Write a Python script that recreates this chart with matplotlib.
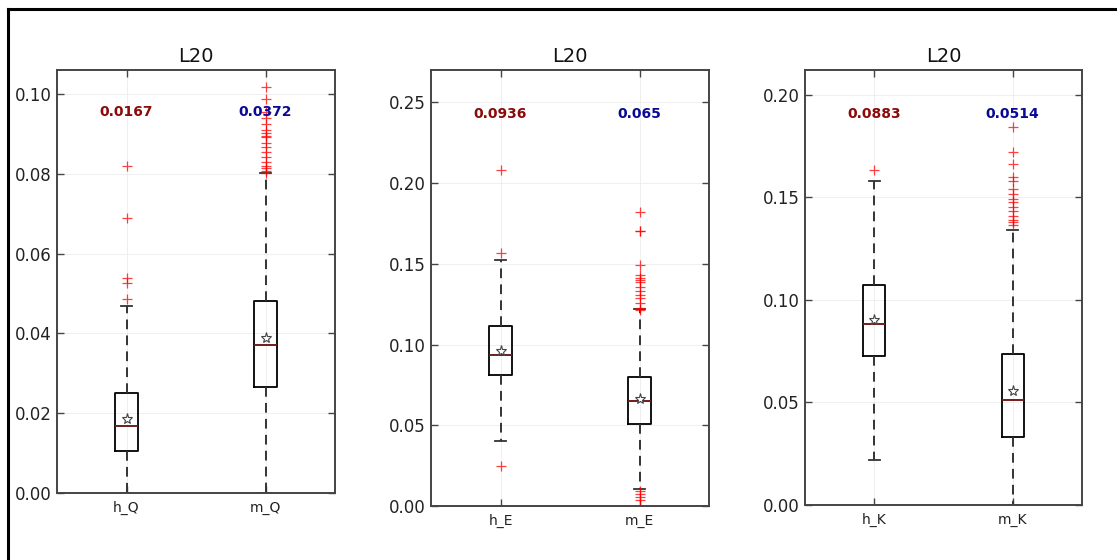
import matplotlib
matplotlib.use("Agg")
import matplotlib.pyplot as plt
from matplotlib.lines import Line2D
from matplotlib.ticker import MultipleLocator, FormatStrFormatter

# ---------------- data ----------------
titles = ["L20", "L20", "L20"]
group_labels = [["h_Q", "m_Q"], ["h_E", "m_E"], ["h_K", "m_K"]]
medians = [[0.0167, 0.0372], [0.0936, 0.065], [0.0883, 0.0514]]
median_text = [["0.0167", "0.0372"], ["0.0936", "0.065"], ["0.0883", "0.0514"]]
q1 = [[0.0105, 0.0265], [0.0814, 0.0510], [0.0726, 0.0330]]
q3 = [[0.0251, 0.0481], [0.1112, 0.0796], [0.1070, 0.0738]]
means = [[0.0186, 0.0388], [0.0959, 0.0663], [0.0902, 0.0557]]
whisker_low = [[0.0, 0.0], [0.0403, 0.0103], [0.0217, 0.0]]
whisker_high = [[0.0469, 0.0801], [0.1521, 0.1219], [0.1581, 0.1342]]

fliers_hQ = [0.0485, 0.0526, 0.0539, 0.0690, 0.0820]
fliers_mQ = [0.0803, 0.0808, 0.0814, 0.0820, 0.0830, 0.0843, 0.0855, 0.0868,
             0.0878, 0.0891, 0.0895, 0.0901, 0.0910, 0.0924, 0.0939, 0.0954,
             0.0987, 0.1018]
fliers_hE = [0.0250, 0.1567, 0.2079]
fliers_mE = [0.0037, 0.0055, 0.0075, 0.0090, 0.1215, 0.1226, 0.1257, 0.1288,
             0.1308, 0.1329, 0.1356, 0.1385, 0.1400, 0.1412, 0.1432, 0.1490,
             0.1700, 0.1705, 0.1819]
fliers_hK = [0.1631]
fliers_mK = [0.1366, 0.1378, 0.1391, 0.1410, 0.1431, 0.1452, 0.1475, 0.1491,
             0.1517, 0.1542, 0.1577, 0.1599, 0.1663, 0.1719, 0.1840]
fliers = [[fliers_hQ, fliers_mQ], [fliers_hE, fliers_mE], [fliers_hK, fliers_mK]]

y_limits = [0.106, 0.270, 0.212]
y_steps = [0.02, 0.05, 0.05]
text_colors = ["#8b0a0a", "#0a0a96"]

# ---------------- layout ----------------
W, H = 1117, 560
fig = plt.figure(figsize=(W / 100, H / 100), dpi=100)
fig.patch.set_facecolor("white")

# axes boxes in pixels: left, right, top, bottom
boxes_px = [(57, 335, 70, 493), (431, 709, 70, 506), (805, 1082, 70, 505)]

spine_col = "#444444"

for i in range(3):
    l, r, t, b = boxes_px[i]
    ax = fig.add_axes([l / W, (H - b) / H, (r - l) / W, (b - t) / H])
    stats = []
    for j in range(2):
        stats.append(dict(
            med=medians[i][j], q1=q1[i][j], q3=q3[i][j],
            whislo=whisker_low[i][j], whishi=whisker_high[i][j],
            fliers=fliers[i][j], mean=means[i][j], label=group_labels[i][j]))
    ax.bxp(stats, positions=[1, 2], widths=0.16, showmeans=True,
           boxprops=dict(color="black", linewidth=1.3),
           whiskerprops=dict(color="#333333", linewidth=1.4, linestyle=(0, (5, 3.2))),
           capprops=dict(color="#333333", linewidth=1.3),
           medianprops=dict(color="#6e1c1c", linewidth=1.4),
           meanprops=dict(marker="*", markerfacecolor="white",
                          markeredgecolor="#444444", markersize=8,
                          markeredgewidth=0.8),
           flierprops=dict(marker="+", markeredgecolor="red", markersize=7,
                           markeredgewidth=0.9, alpha=0.75, linestyle="none"))
    ax.set_xlim(0.5, 2.5)
    ax.set_ylim(0, y_limits[i])
    ax.yaxis.set_major_locator(MultipleLocator(y_steps[i]))
    ax.yaxis.set_major_formatter(FormatStrFormatter("%.2f"))
    ax.grid(True, color="#ececec", linewidth=0.6)
    ax.set_axisbelow(True)
    ax.tick_params(direction="in", top=True, right=True, length=5,
                   color=spine_col, width=1)
    ax.tick_params(axis="y", labelsize=12, pad=4, labelcolor="#222222")
    ax.tick_params(axis="x", labelsize=10, pad=6, labelcolor="#222222")
    for s in ax.spines.values():
        s.set_color(spine_col)
        s.set_linewidth(1.4)
    ax.set_title(titles[i], fontsize=14, pad=6, color="#111111")
    for j in range(2):
        ax.text(j + 1, 0.9, median_text[i][j], transform=ax.get_xaxis_transform(),
                ha="center", va="center", fontsize=10, fontweight="bold",
                color=text_colors[j])

# figure frame lines (top and left)
fig.add_artist(Line2D([8 / W, 1.0], [1 - 9 / H, 1 - 9 / H], color="black",
                      linewidth=2.2, transform=fig.transFigure))
fig.add_artist(Line2D([8 / W, 8 / W], [0.0, 1 - 9 / H], color="black",
                      linewidth=2.2, transform=fig.transFigure))

fig.savefig("out.png", dpi=100)
